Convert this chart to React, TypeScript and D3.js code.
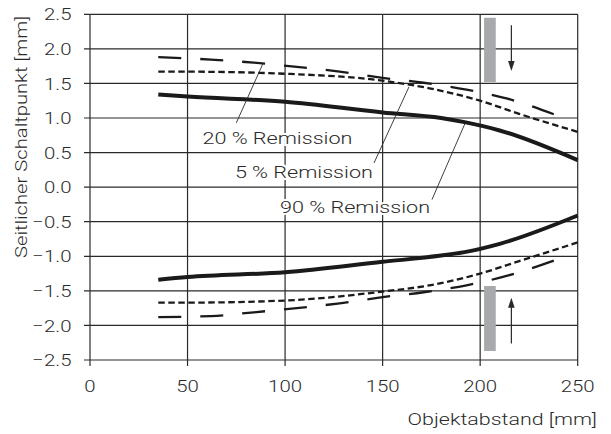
import React from "react";
import * as d3 from "d3";

const xTicks = [0, 50, 100, 150, 200, 250];
const yTicks = [2.5, 2.0, 1.5, 1.0, 0.5, 0.0, -0.5, -1.0, -1.5, -2.0, -2.5];

// 90 % Remission (solid)
const solidX = [35, 50, 100, 150, 180, 192, 210, 250];
const solidTop = [1.34, 1.31, 1.235, 1.08, 1.0, 0.94, 0.82, 0.39];
const solidBottom = [-1.34, -1.30, -1.23, -1.08, -0.99, -0.94, -0.82, -0.41];

// 5 % Remission (short dashes)
const shortX = [35, 50, 100, 150, 174, 200, 220, 250];
const shortTop = [1.67, 1.67, 1.64, 1.54, 1.43, 1.25, 1.06, 0.8];
const shortBottom = [-1.67, -1.67, -1.64, -1.51, -1.42, -1.25, -1.07, -0.8];

// 20 % Remission (long dashes)
const longX = [35, 62, 84, 106, 128, 150, 171, 193, 214, 240];
const longTop = [1.88, 1.845, 1.80, 1.74, 1.67, 1.58, 1.51, 1.41, 1.28, 1.03];
const longBottom = [-1.88, -1.865, -1.81, -1.75, -1.68, -1.59, -1.52, -1.42, -1.28, -1.04];

// gray bars [x0, x1, y0, y1]
const bars = [
  [202, 208, 2.45, 1.52],
  [202, 208, -1.43, -2.37],
];
// arrows [x, yFrom, yTo]
const arrows = [
  [216, 2.34, 1.68],
  [216, -2.26, -1.6],
];

const labels = ["20 % Remission", "5 % Remission", "90 % Remission"];
// label anchor (right end) [x, y]
const labelPos = [
  [134.5, 0.63],
  [145, 0.135],
  [174.3, -0.38],
];
// leader lines [x1, y1, x2, y2]
const leaders = [
  [75, 0.93, 88.7, 1.79],
  [145.6, 0.35, 163.5, 1.45],
  [175.3, -0.18, 192.2, 0.92],
];

const FONT = "Roboto, 'Liberation Sans', Arial, sans-serif";
const INK = "#2a2a2a";

function T(props: {
  x: number; y: number; sx: number; anchor?: string; rotate?: number; dy?: string; halo?: boolean; children: React.ReactNode;
}) {
  const { x, y, sx, anchor = "start", rotate = 0, dy, halo, children } = props;
  return (
    <text
      transform={`translate(${x},${y}) rotate(${rotate}) scale(${sx},1)`}
      textAnchor={anchor}
      dy={dy}
      fontFamily={FONT}
      fontWeight={300}
      fontSize={17}
      fill={INK}
      stroke={halo ? "#fff" : undefined}
      strokeWidth={halo ? 4 : undefined}
      paintOrder={halo ? "stroke" : undefined}
    >
      {children}
    </text>
  );
}

export default function App() {
  const W = 611, H = 434;
  const x = d3.scaleLinear().domain([0, 250]).range([90, 577.7]);
  const y = d3.scaleLinear().domain([-2.5, 2.5]).range([360, 14.3]);

  const line = (xs: number[], ys: number[]) =>
    d3.line<number>()
      .x((_, i) => x(xs[i]))
      .y((d) => y(d))
      .curve(d3.curveMonotoneX)(ys) as string;

  const fmt = (v: number) => (v < 0 ? "\u2212" : "") + Math.abs(v).toFixed(1);

  return (
    <svg width={W} height={H} style={{ position: "absolute", left: 0, top: 0, background: "#fff" }}>
      <rect x={0} y={0} width={W} height={H} fill="#fff" />
      {/* grid */}
      <g stroke={INK} strokeWidth={1.2}>
        {yTicks.map((t) => (
          <line key={"gy" + t} x1={84} x2={x(250)} y1={y(t)} y2={y(t)} />
        ))}
        {xTicks.map((t) => (
          <line key={"gx" + t} x1={x(t)} x2={x(t)} y1={y(2.5)} y2={366} />
        ))}
      </g>
      {/* tick labels */}
      {yTicks.map((t) => (
        <T key={"ly" + t} x={71.5} y={y(t)} dy="0.36em" anchor="end" sx={1.2}>
          {fmt(t)}
        </T>
      ))}
      {xTicks.map((t) => (
        <T key={"lx" + t} x={x(t)} y={392} anchor="middle" sx={1.2}>
          {t}
        </T>
      ))}
      <T x={597} y={425} anchor="end" sx={1.26}>Objektabstand [mm]</T>
      <T x={27} y={137} rotate={-90} anchor="middle" sx={1.19}>Seitlicher Schaltpunkt [mm]</T>
      {/* gray bars */}
      {bars.map((b, i) => (
        <rect key={"b" + i} x={x(b[0])} width={x(b[1]) - x(b[0])} y={y(b[2])} height={y(b[3]) - y(b[2])} fill="#a7a9ac" />
      ))}
      {/* arrows */}
      {arrows.map((a, i) => {
        const ax = x(a[0]);
        const y1 = y(a[1]);
        const y2 = y(a[2]);
        const dir = y2 > y1 ? 1 : -1;
        return (
          <g key={"a" + i}>
            <line x1={ax} x2={ax} y1={y1} y2={y2 - dir * 7} stroke={INK} strokeWidth={1.2} />
            <path d={`M${ax},${y2} L${ax - 3.3},${y2 - dir * 10} L${ax + 3.3},${y2 - dir * 10} Z`} fill={INK} />
          </g>
        );
      })}
      {/* curves */}
      <g fill="none" stroke="#1a1a1a">
        <path d={line(longX, longTop)} strokeWidth={2.3} strokeDasharray="23 19" />
        <path d={line(longX, longBottom)} strokeWidth={2.3} strokeDasharray="23 19" />
        <path d={line(shortX, shortTop)} strokeWidth={2.3} strokeDasharray="6.5 3.5" />
        <path d={line(shortX, shortBottom)} strokeWidth={2.3} strokeDasharray="6.5 3.5" />
        <path d={line(solidX, solidTop)} strokeWidth={4} />
        <path d={line(solidX, solidBottom)} strokeWidth={4} />
      </g>
      {/* labels */}
      {labels.map((l, i) => (
        <T key={"t" + i} x={x(labelPos[i][0])} y={y(labelPos[i][1])} anchor="end" halo sx={1.27}>
          {l}
        </T>
      ))}
      <g stroke={INK} strokeWidth={0.9}>
        {leaders.map((l, i) => (
          <line key={"ll" + i} x1={x(l[0])} y1={y(l[1])} x2={x(l[2])} y2={y(l[3])} />
        ))}
      </g>
    </svg>
  );
}
